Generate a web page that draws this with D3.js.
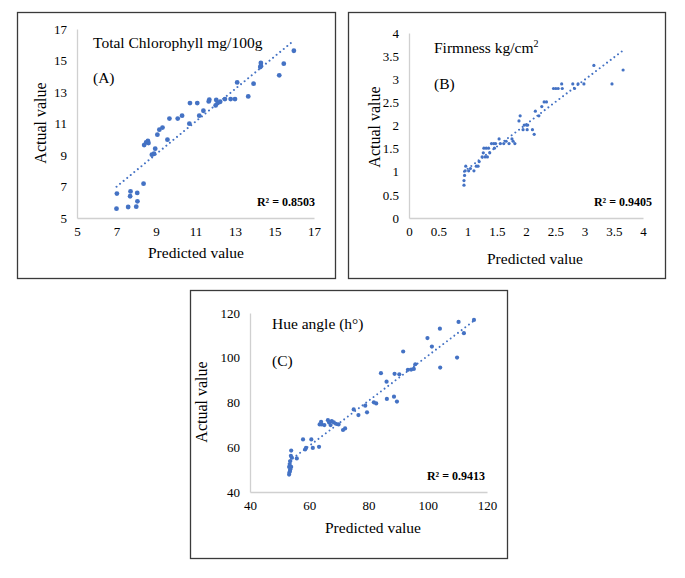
<!DOCTYPE html>
<html>
<head>
<meta charset="utf-8">
<script src="https://cdn.jsdelivr.net/npm/d3@7"></script>
<style>
  html, body { margin: 0; padding: 0; background: #fff; }
  svg { display: block; }
  text { font-family: "Liberation Serif", "Times New Roman", serif; fill: #000; }
</style>
</head>
<body>
<svg id="chart" width="685" height="578"></svg>
<script>
// ---------------- DATA ----------------
// Panel A: Total Chlorophyll mg/100g
const predA = [7.0, 7.02, 7.59, 7.69, 7.71, 8.0, 8.06, 8.05, 8.37, 8.4, 8.5, 8.59, 8.62, 8.79, 8.9, 8.96,
  9.07, 9.17, 9.33, 9.58, 9.68, 10.1, 10.32, 10.69, 10.72, 11.09, 11.19, 11.4, 11.67, 11.7,
  12.02, 12.05, 12.12, 12.25, 12.49, 12.78, 13.0, 13.11, 13.67, 13.94, 14.31, 14.31, 14.28, 15.24, 15.47, 15.98];
const actualA = [5.59, 6.55, 5.7, 6.38, 6.69, 5.72, 6.06, 6.59, 7.18, 9.63, 9.8, 9.89, 9.76, 9.02, 9.08, 9.4,
  10.29, 10.61, 10.74, 9.97, 11.31, 11.31, 11.5, 10.99, 12.3, 12.3, 11.5, 11.81, 12.4, 12.51,
  12.15, 12.5, 12.3, 12.38, 12.55, 12.55, 12.55, 13.61, 12.72, 13.53, 14.84, 14.67, 14.58, 14.06, 14.8, 15.62];
const ticksA = [5, 7, 9, 11, 13, 15, 17];
const r2A = "R² = 0.8503";

// Panel B: Firmness kg/cm2
const predB = [0.94, 0.94, 0.95, 0.96, 0.97, 1.02, 1.05, 1.11, 1.15, 1.18, 1.2, 1.25, 1.27, 1.28, 1.32, 1.36,
  1.3, 1.34, 1.38, 1.41, 1.45, 1.48, 1.46, 1.54, 1.56, 1.62, 1.66, 1.71, 1.76, 1.78, 1.81,
  1.88, 1.9, 1.95, 1.97, 2.01, 2.02, 2.03, 2.11, 2.14, 2.16, 2.22, 2.27, 2.31, 2.35,
  2.47, 2.51, 2.55, 2.61, 2.62, 2.8, 2.83, 2.89, 2.99, 3.16, 3.47, 3.66];
const actualB = [0.71, 0.81, 0.92, 1.02, 1.12, 1.02, 1.07, 1.02, 1.12, 1.12, 1.22, 1.32, 1.41, 1.51, 1.51, 1.51,
  1.32, 1.32, 1.41, 1.61, 1.61, 1.61, 1.51, 1.71, 1.61, 1.61, 1.66, 1.61, 1.71, 1.66, 1.61,
  2.1, 2.21, 1.91, 2.01, 2.01, 1.91, 2.01, 1.91, 1.81, 2.31, 2.21, 2.41, 2.51, 2.51,
  2.8, 2.8, 2.8, 2.9, 2.8, 2.9, 2.8, 2.9, 2.9, 3.3, 2.9, 3.2];
const ticksBx = [0, 0.5, 1, 1.5, 2, 2.5, 3, 3.5, 4];
const ticksBy = [0, 0.5, 1, 1.5, 2, 2.5, 3, 3.5, 4];
const r2B = "R² = 0.9405";

// Panel C: Hue angle (h°)
const predC = [53.2, 53.3, 53.5, 53.2, 53.9, 53.6, 54.1, 53.6, 53.9, 53.4, 53.8, 55.8, 57.9, 58.6, 58.9, 60.7, 61.2,
  63.3, 63.5, 64.0, 64.2, 65.1, 66.3, 66.7, 67.2, 67.6, 68.3, 69.0, 69.9, 71.4, 72.1,
  75.0, 76.6, 78.9, 79.5, 81.8, 82.6, 84.2, 86.1, 86.2, 88.6, 88.8, 89.6, 90.4, 91.7,
  93.3, 94.4, 95.3, 95.8, 99.9, 101.4, 104.1, 104.2, 109.9, 110.4, 112.2, 115.6];
const actualC = [47.8, 48.7, 49.4, 51.2, 51.2, 50.2, 55.4, 53.8, 58.5, 52.5, 56.2, 55.0, 63.5, 59.0, 59.7, 63.5, 59.7,
  60.2, 70.2, 71.4, 70.2, 69.9, 72.1, 71.1, 69.9, 71.7, 71.1, 70.5, 70.2, 67.7, 68.4,
  76.9, 74.4, 78.6, 75.6, 80.1, 79.6, 93.1, 89.3, 81.6, 82.6, 92.8, 80.4, 92.6, 102.8,
  94.6, 94.7, 95.0, 97.1, 108.8, 105.0, 113.0, 95.6, 100.1, 116.0, 111.0, 116.9];
const ticksC = [40, 60, 80, 100, 120];
const r2C = "R² = 0.9413";

// ---------------- DRAWING ----------------
const svg = d3.select("#chart");
const BLUE = "#4472C4";

function linreg(xs, ys) {
  const n = xs.length;
  const mx = d3.mean(xs), my = d3.mean(ys);
  let sxy = 0, sxx = 0;
  for (let i = 0; i < n; i++) { sxy += (xs[i] - mx) * (ys[i] - my); sxx += (xs[i] - mx) ** 2; }
  const b = sxy / sxx;
  return { b, a: my - b * mx };
}

function panel(cfg) {
  const g = svg.append("g");
  // frame
  g.append("rect")
    .attr("x", cfg.frame[0] + 0.5).attr("y", cfg.frame[1] + 0.5)
    .attr("width", cfg.frame[2]).attr("height", cfg.frame[3])
    .attr("fill", "none").attr("stroke", "#3a3a3a").attr("stroke-width", 1.3);

  const x = d3.scaleLinear().domain(cfg.xdom).range([cfg.plot[0], cfg.plot[1]]);
  const y = d3.scaleLinear().domain(cfg.ydom).range([cfg.plot[3], cfg.plot[2]]);

  // axes
  const xAxis = d3.axisBottom(x).tickValues(cfg.xticks).tickSize(0).tickPadding(9)
    .tickFormat(d => String(d));
  const yAxis = d3.axisLeft(y).tickValues(cfg.yticks).tickSize(0).tickPadding(10)
    .tickFormat(d => String(d));

  const gx = g.append("g").attr("transform", `translate(0,${cfg.plot[3]})`).call(xAxis);
  const gy = g.append("g").attr("transform", `translate(${cfg.plot[0]},0)`).call(yAxis);
  [gx, gy].forEach(a => {
    a.select(".domain").attr("stroke", "#d0d0d0").attr("stroke-width", 1.3);
    a.selectAll("text").attr("font-family", "Liberation Serif").attr("font-size", 13).attr("fill", "#000");
  });

  // trendline
  const lr = linreg(cfg.px, cfg.ay);
  const xmin = d3.min(cfg.px), xmax = d3.max(cfg.px);
  g.append("line")
    .attr("x1", x(xmin)).attr("y1", y(lr.a + lr.b * xmin))
    .attr("x2", x(xmax)).attr("y2", y(lr.a + lr.b * xmax))
    .attr("stroke", BLUE).attr("stroke-width", 2)
    .attr("stroke-linecap", "round").attr("stroke-dasharray", "0.01 4.6");

  // points
  g.selectAll("circle.pt").data(cfg.px.map((v, i) => [v, cfg.ay[i]])).enter()
    .append("circle").attr("class", "pt")
    .attr("cx", d => x(d[0])).attr("cy", d => y(d[1]))
    .attr("r", cfg.r).attr("fill", BLUE);

  // labels
  const t = g.append("text").attr("x", cfg.titlePos[0]).attr("y", cfg.titlePos[1])
    .attr("font-size", 15.5);
  cfg.title(t);
  g.append("text").attr("x", cfg.letterPos[0]).attr("y", cfg.letterPos[1])
    .attr("font-size", 15.5).text(cfg.letter);
  g.append("text").attr("x", cfg.r2Pos[0]).attr("y", cfg.r2Pos[1])
    .attr("text-anchor", "end").attr("font-size", 12).attr("font-weight", "bold").text(cfg.r2);
  g.append("text").attr("x", cfg.xlabPos[0]).attr("y", cfg.xlabPos[1])
    .attr("text-anchor", "middle").attr("font-size", 15.5).text("Predicted value");
  g.append("text")
    .attr("transform", `translate(${cfg.ylabPos[0]},${cfg.ylabPos[1]}) rotate(-90)`)
    .attr("text-anchor", "middle").attr("font-size", 16).text("Actual value");
}

panel({
  frame: [17, 12, 318, 266], plot: [77, 314, 29, 218],
  xdom: [5, 17], ydom: [5, 17], xticks: ticksA, yticks: ticksA,
  px: predA, ay: actualA, r: 2.4,
  title: t => t.text("Total Chlorophyll mg/100g"), titlePos: [93, 48],
  letter: "(A)", letterPos: [93, 83],
  r2: r2A, r2Pos: [315, 206],
  xlabPos: [196, 258], ylabPos: [46, 123]
});

panel({
  frame: [348, 12, 317, 266], plot: [409, 643, 33, 218],
  xdom: [0, 4], ydom: [0, 4], xticks: ticksBx, yticks: ticksBy,
  px: predB, ay: actualB, r: 1.6,
  title: t => { t.append("tspan").text("Firmness kg/cm");
                t.append("tspan").attr("dy", -6).attr("font-size", 10).text("2"); },
  titlePos: [434, 53],
  letter: "(B)", letterPos: [434, 89],
  r2: r2B, r2Pos: [652, 206],
  xlabPos: [535, 264], ylabPos: [380, 127]
});

panel({
  frame: [190, 290, 317, 268], plot: [250, 487, 313, 492],
  xdom: [40, 120], ydom: [40, 120], xticks: ticksC, yticks: ticksC,
  px: predC, ay: actualC, r: 2.1,
  title: t => t.text("Hue angle (h°)"), titlePos: [272, 329],
  letter: "(C)", letterPos: [272, 366],
  r2: r2C, r2Pos: [485, 480],
  xlabPos: [373, 533], ylabPos: [207, 402]
});
</script>
</body>
</html>
